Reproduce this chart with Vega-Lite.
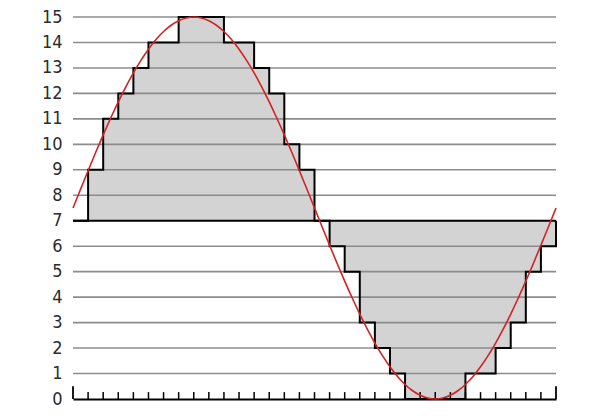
{
  "$schema": "https://vega.github.io/schema/vega-lite/v6.json",
  "width": 483,
  "height": 382,
  "autosize": "none",
  "padding": {"left": 73, "top": 17, "right": 44, "bottom": 17},
  "background": "white",
  "config": {
    "view": {"stroke": null},
    "axisY": {
      "labelOverlap": false, "title": null, "grid": false, "domain": false, "ticks": false,
      "labelPadding": 11, "labelFont": "DejaVu Sans Condensed", "labelFontSize": 18,
      "labelColor": "#2b2b2b", "labelFontWeight": "normal", "labelBaseline": "middle"
    },
    "axisX": {
      "labels": false, "ticks": false, "title": null, "grid": false,
      "domainColor": "#000000", "domainWidth": 2
    }
  },
  "datasets": {
    "steps": [
      {"i": 0, "v": 7}, {"i": 1, "v": 9}, {"i": 2, "v": 11}, {"i": 3, "v": 12},
      {"i": 4, "v": 13}, {"i": 5, "v": 14}, {"i": 6, "v": 14}, {"i": 7, "v": 15},
      {"i": 8, "v": 15}, {"i": 9, "v": 15}, {"i": 10, "v": 14}, {"i": 11, "v": 14},
      {"i": 12, "v": 13}, {"i": 13, "v": 12}, {"i": 14, "v": 10}, {"i": 15, "v": 9},
      {"i": 16, "v": 7}, {"i": 17, "v": 6}, {"i": 18, "v": 5}, {"i": 19, "v": 3},
      {"i": 20, "v": 2}, {"i": 21, "v": 1}, {"i": 22, "v": 0}, {"i": 23, "v": 0},
      {"i": 24, "v": 0}, {"i": 25, "v": 0}, {"i": 26, "v": 1}, {"i": 27, "v": 1},
      {"i": 28, "v": 2}, {"i": 29, "v": 3}, {"i": 30, "v": 5}, {"i": 31, "v": 6},
      {"i": 32, "v": 7}
    ],
    "grid": [
      {"g": 1}, {"g": 2}, {"g": 3}, {"g": 4}, {"g": 5}, {"g": 6}, {"g": 8},
      {"g": 9}, {"g": 10}, {"g": 11}, {"g": 12}, {"g": 13}, {"g": 14}, {"g": 15}
    ],
    "ticks": [
      {"t": 1}, {"t": 2}, {"t": 3}, {"t": 4}, {"t": 5}, {"t": 6}, {"t": 7}, {"t": 8},
      {"t": 9}, {"t": 10}, {"t": 11}, {"t": 12}, {"t": 13}, {"t": 14}, {"t": 15}, {"t": 16},
      {"t": 17}, {"t": 18}, {"t": 19}, {"t": 20}, {"t": 21}, {"t": 22}, {"t": 23}, {"t": 24},
      {"t": 25}, {"t": 26}, {"t": 27}, {"t": 28}, {"t": 29}, {"t": 30}, {"t": 31}
    ],
    "curve": [
      {"x": 0, "y": 7.5}, {"x": 0.5, "y": 8.235}, {"x": 1, "y": 8.963}, {"x": 1.5, "y": 9.677},
      {"x": 2, "y": 10.37}, {"x": 2.5, "y": 11.035}, {"x": 3, "y": 11.667}, {"x": 3.5, "y": 12.258},
      {"x": 4, "y": 12.803}, {"x": 4.5, "y": 13.298}, {"x": 5, "y": 13.736}, {"x": 5.5, "y": 14.114},
      {"x": 6, "y": 14.429}, {"x": 6.5, "y": 14.677}, {"x": 7, "y": 14.856}, {"x": 7.5, "y": 14.964},
      {"x": 8, "y": 15}, {"x": 8.5, "y": 14.964}, {"x": 9, "y": 14.856}, {"x": 9.5, "y": 14.677},
      {"x": 10, "y": 14.429}, {"x": 10.5, "y": 14.114}, {"x": 11, "y": 13.736}, {"x": 11.5, "y": 13.298},
      {"x": 12, "y": 12.803}, {"x": 12.5, "y": 12.258}, {"x": 13, "y": 11.667}, {"x": 13.5, "y": 11.035},
      {"x": 14, "y": 10.37}, {"x": 14.5, "y": 9.677}, {"x": 15, "y": 8.963}, {"x": 15.5, "y": 8.235},
      {"x": 16, "y": 7.5}, {"x": 16.5, "y": 6.765}, {"x": 17, "y": 6.037}, {"x": 17.5, "y": 5.323},
      {"x": 18, "y": 4.63}, {"x": 18.5, "y": 3.965}, {"x": 19, "y": 3.333}, {"x": 19.5, "y": 2.742},
      {"x": 20, "y": 2.197}, {"x": 20.5, "y": 1.702}, {"x": 21, "y": 1.264}, {"x": 21.5, "y": 0.886},
      {"x": 22, "y": 0.571}, {"x": 22.5, "y": 0.323}, {"x": 23, "y": 0.144}, {"x": 23.5, "y": 0.036},
      {"x": 24, "y": 0}, {"x": 24.5, "y": 0.036}, {"x": 25, "y": 0.144}, {"x": 25.5, "y": 0.323},
      {"x": 26, "y": 0.571}, {"x": 26.5, "y": 0.886}, {"x": 27, "y": 1.264}, {"x": 27.5, "y": 1.702},
      {"x": 28, "y": 2.197}, {"x": 28.5, "y": 2.742}, {"x": 29, "y": 3.333}, {"x": 29.5, "y": 3.965},
      {"x": 30, "y": 4.63}, {"x": 30.5, "y": 5.323}, {"x": 31, "y": 6.037}, {"x": 31.5, "y": 6.765},
      {"x": 32, "y": 7.5}
    ],
    "ends": [{"t": 0}, {"t": 32}]
  },
  "layer": [
    {
      "data": {"name": "steps"},
      "mark": {"type": "area", "interpolate": "step-after", "fill": "#d3d3d3"},
      "encoding": {
        "x": {
          "field": "i", "type": "quantitative",
          "scale": {"domain": [0, 32], "nice": false, "zero": false}
        },
        "y": {
          "field": "v", "type": "quantitative",
          "scale": {"domain": [0, 15], "nice": false},
          "axis": {"values": [0,1,2,3,4,5,6,7,8,9,10,11,12,13,14,15], "labelFontSize": 18, "labelFont": "DejaVu Sans Condensed"}
        },
        "y2": {"datum": 7}
      }
    },
    {
      "data": {"name": "grid"},
      "mark": {"type": "rule", "stroke": "#8c8c8c", "strokeWidth": 1.6},
      "encoding": {
        "y": {"field": "g", "type": "quantitative", "axis": {"values": [0,1,2,3,4,5,6,7,8,9,10,11,12,13,14,15], "labelFontSize": 18, "labelFont": "DejaVu Sans Condensed"}},
        "x": {"datum": 0},
        "x2": {"datum": 32}
      }
    },
    {
      "data": {"name": "ticks"},
      "mark": {"type": "rule", "stroke": "#000000", "strokeWidth": 1.5},
      "encoding": {
        "x": {"field": "t", "type": "quantitative"},
        "y": {"datum": 0, "axis": {"values": [0,1,2,3,4,5,6,7,8,9,10,11,12,13,14,15], "labelFontSize": 18, "labelFont": "DejaVu Sans Condensed"}},
        "y2": {"datum": 0.27}
      }
    },
    {
      "data": {"name": "ends"},
      "mark": {"type": "rule", "stroke": "#000000", "strokeWidth": 1.8},
      "encoding": {
        "x": {"field": "t", "type": "quantitative"},
        "y": {"datum": 0, "axis": {"values": [0,1,2,3,4,5,6,7,8,9,10,11,12,13,14,15], "labelFontSize": 18, "labelFont": "DejaVu Sans Condensed"}},
        "y2": {"datum": 0.5}
      }
    },
    {
      "data": {"values": [{"b": 7}]},
      "mark": {"type": "rule", "stroke": "#000000", "strokeWidth": 2},
      "encoding": {
        "y": {"field": "b", "type": "quantitative", "axis": {"values": [0,1,2,3,4,5,6,7,8,9,10,11,12,13,14,15], "labelFontSize": 18, "labelFont": "DejaVu Sans Condensed"}},
        "x": {"datum": 0},
        "x2": {"datum": 32}
      }
    },
    {
      "data": {"name": "steps"},
      "mark": {"type": "line", "interpolate": "step-after", "stroke": "#000000", "strokeWidth": 2},
      "encoding": {
        "x": {"field": "i", "type": "quantitative"},
        "y": {"field": "v", "type": "quantitative", "axis": {"values": [0,1,2,3,4,5,6,7,8,9,10,11,12,13,14,15], "labelFontSize": 18, "labelFont": "DejaVu Sans Condensed"}}
      }
    },
    {
      "data": {"name": "curve"},
      "mark": {"type": "line", "interpolate": "monotone", "stroke": "#d42222", "strokeWidth": 1.6},
      "encoding": {
        "x": {"field": "x", "type": "quantitative"},
        "y": {"field": "y", "type": "quantitative", "axis": {"values": [0,1,2,3,4,5,6,7,8,9,10,11,12,13,14,15], "labelFontSize": 18, "labelFont": "DejaVu Sans Condensed"}}
      }
    }
  ]
}
